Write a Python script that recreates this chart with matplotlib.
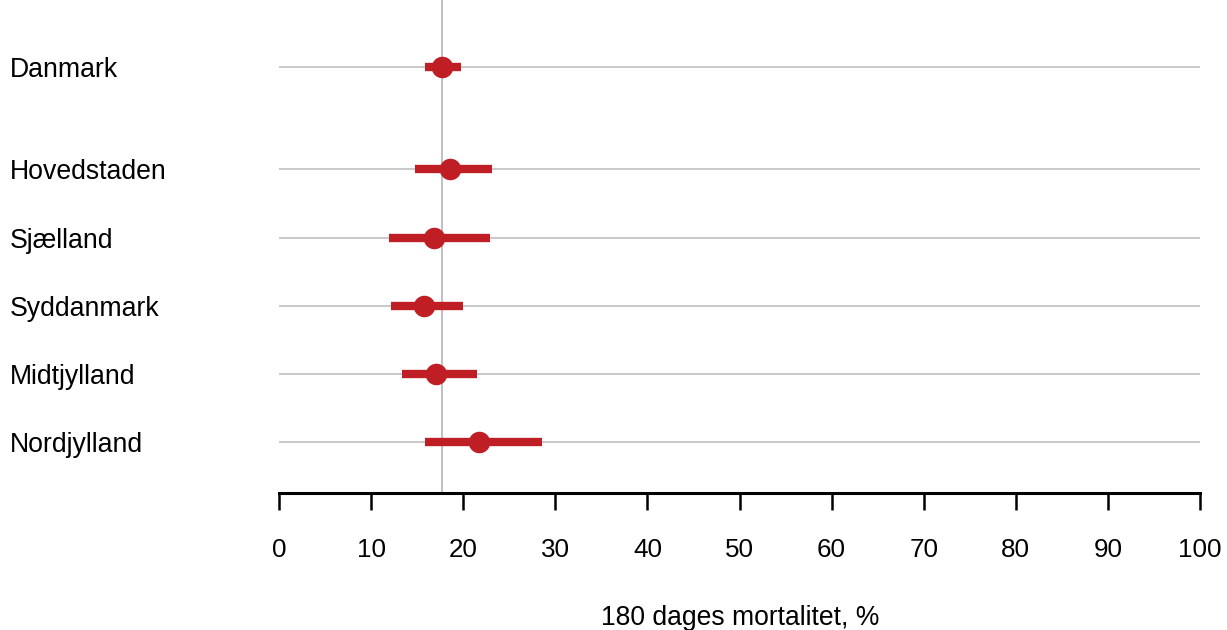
import matplotlib
matplotlib.use("Agg")
import matplotlib.pyplot as plt
from matplotlib.transforms import blended_transform_factory, ScaledTranslation

regions = ["Danmark", "Hovedstaden", "Sjælland", "Syddanmark", "Midtjylland", "Nordjylland"]
estimate = [17.7, 18.6, 16.8, 15.7, 17.1, 21.7]
lower = [15.8, 14.8, 11.9, 12.2, 13.4, 15.9]
upper = [19.8, 23.1, 22.9, 20.0, 21.5, 28.6]
ypos = [0, 1.5, 2.5, 3.5, 4.5, 5.5]
xticks = [0, 10, 20, 30, 40, 50, 60, 70, 80, 90, 100]
xlabel = "180 dages mortalitet, %"

plt.rcParams['font.family'] = ['Liberation Sans', 'DejaVu Sans']
W, H = 1227, 630
fig = plt.figure(figsize=(W/100, H/100), dpi=100)
ax = fig.add_axes([279/W, 1-493/H, (1200-279)/W, 493/H])

red = '#BE1E24'
ax.hlines(ypos, 0, 100, color='#c8c8c8', lw=1.4, zorder=1)
ax.axvline(estimate[0], color='#c0c0c0', lw=1.4, zorder=1)
ax.hlines(ypos, lower, upper, color=red, lw=6, zorder=3)
ax.plot(estimate, ypos, 'o', color=red, ms=15.5, zorder=4, mec='none')

ax.set_xlim(0, 100)
ax.set_ylim(6.24, -0.98)
for s in ['top', 'left', 'right']:
    ax.spines[s].set_visible(False)
ax.spines['bottom'].set_linewidth(2.2)
ax.spines['bottom'].set_color('black')
ax.set_yticks([])
ax.set_xticks(xticks)
ax.set_xticklabels([str(t) for t in xticks], fontsize=18.7)
ax.tick_params(axis='x', length=12, width=1.8, pad=20.5, color='black')
for t in ax.xaxis.get_major_ticks():
    t.tick1line.set_clip_on(False)

trans = blended_transform_factory(fig.transFigure, ax.transData) + ScaledTranslation(0, -3/100, fig.dpi_scale_trans)
for r, y in zip(regions, ypos):
    ax.text(10/W, y, r, transform=trans, ha='left', va='center', fontsize=19.2)

fig.text(740/W, 1-618/H, xlabel, ha='center', va='center', fontsize=19.1)
fig.savefig('out.png', dpi=100)
